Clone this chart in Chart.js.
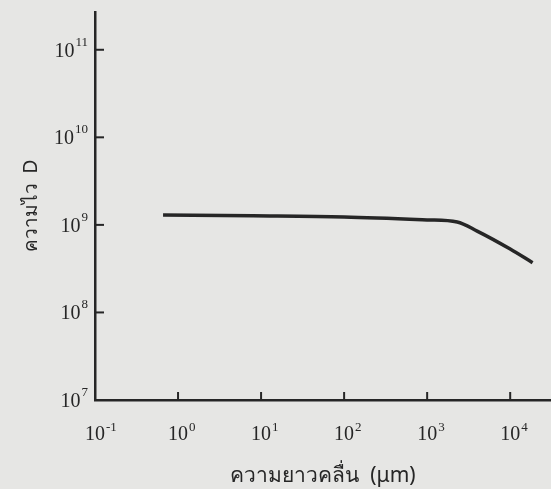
<!DOCTYPE html>
<html>
<head>
<meta charset="utf-8">
<script src="https://cdn.jsdelivr.net/npm/chart.js@4/dist/chart.umd.min.js"></script>
<style>
  html, body { margin: 0; padding: 0; background: #e6e6e4; overflow: hidden; }
  #wrap { width: 551px; height: 489px; }
</style>
</head>
<body>
<div id="wrap"><canvas id="myChart" width="551" height="489"></canvas></div>
<script>
'use strict';

// wavelength (um) and detectivity D
let wavelength = [0.66, 8, 100, 1000, 2300, 4000, 10000, 18600];
let detectivity = [1.3e9, 1.27e9, 1.23e9, 1.14e9, 1.08e9, 8.5e8, 5.3e8, 3.7e8];

// tick positions and their exponent labels
let xTickValues = [0.1, 1, 10, 100, 1000, 10000];
let xTickExp = ['-1', '0', '1', '2', '3', '4'];
let yTickValues = [1e7, 1e8, 1e9, 1e10, 1e11];
let yTickExp = ['7', '8', '9', '10', '11'];

let ink = '#262626';
let serif = '"Liberation Serif", "DejaVu Serif", serif';

// draws inward tick marks and 10^n labels at the scale positions
let powerTicks = {
  id: 'powerTicks',
  afterDraw(chart) {
    let ctx = chart.ctx;
    let xs = chart.scales.x;
    let ys = chart.scales.y;
    let area = chart.chartArea;
    ctx.save();
    ctx.strokeStyle = ink;
    ctx.fillStyle = ink;
    ctx.lineWidth = 2;
    ctx.textBaseline = 'alphabetic';

    for (let i = 0; i < xTickValues.length; i++) {
      let px = xs.getPixelForValue(xTickValues[i]);
      if (i > 0) {
        ctx.beginPath();
        ctx.moveTo(px, area.bottom);
        ctx.lineTo(px, area.bottom - 8);
        ctx.stroke();
      }
      ctx.font = '20px ' + serif;
      let w = ctx.measureText('10').width;
      ctx.textAlign = 'left';
      ctx.fillText('10', px - w / 2, area.bottom + 40);
      ctx.font = '13px ' + serif;
      ctx.fillText(xTickExp[i], px + w / 2 + 1, area.bottom + 31);
    }

    for (let j = 0; j < yTickValues.length; j++) {
      let py = ys.getPixelForValue(yTickValues[j]);
      if (j > 0) {
        ctx.beginPath();
        ctx.moveTo(area.left, py);
        ctx.lineTo(area.left + 9, py);
        ctx.stroke();
      }
      ctx.font = '13px ' + serif;
      let ew = ctx.measureText(yTickExp[j]).width;
      ctx.textAlign = 'right';
      ctx.fillText(yTickExp[j], area.left - 7, py - 4);
      ctx.font = '20px ' + serif;
      ctx.fillText('10', area.left - 8 - ew, py + 7);
    }
    ctx.restore();
  }
};

let ctx = document.getElementById('myChart').getContext('2d');
let chart = new Chart(ctx, {
  type: 'line',
  data: {
    datasets: [{
      data: wavelength.map((w, i) => ({x: w, y: detectivity[i]})),
      borderColor: ink,
      borderWidth: 3.5,
      pointRadius: 0,
      fill: false,
      cubicInterpolationMode: 'monotone'
    }]
  },
  options: {
    responsive: false,
    animation: false,
    layout: { padding: { top: 12, right: 0, left: 0, bottom: 0 } },
    plugins: { legend: { display: false }, tooltip: { enabled: false } },
    scales: {
      x: {
        type: 'logarithmic',
        min: 0.1,
        max: 31000,
        grid: { display: false, drawTicks: false },
        border: { display: true, color: ink, width: 2.5 },
        ticks: { display: false },
        title: {
          display: true,
          text: 'ความยาวคลื่น  (μm)',
          color: ink,
          font: { family: '"Noto Sans", "DejaVu Sans", sans-serif', size: 21 },
          padding: { top: 3, bottom: 0 }
        },
        afterFit(scale) { scale.height = 89; }
      },
      y: {
        type: 'logarithmic',
        min: 1e7,
        max: 2.7e11,
        grid: { display: false, drawTicks: false },
        border: { display: true, color: ink, width: 2.5 },
        ticks: { display: false },
        title: {
          display: true,
          text: 'ความไว  D',
          color: ink,
          font: { family: '"Noto Sans", "DejaVu Sans", sans-serif', size: 19 },
          padding: { top: 20, bottom: 0 }
        },
        afterFit(scale) { scale.width = 95; }
      }
    }
  },
  plugins: [powerTicks]
});
</script>
</body>
</html>
